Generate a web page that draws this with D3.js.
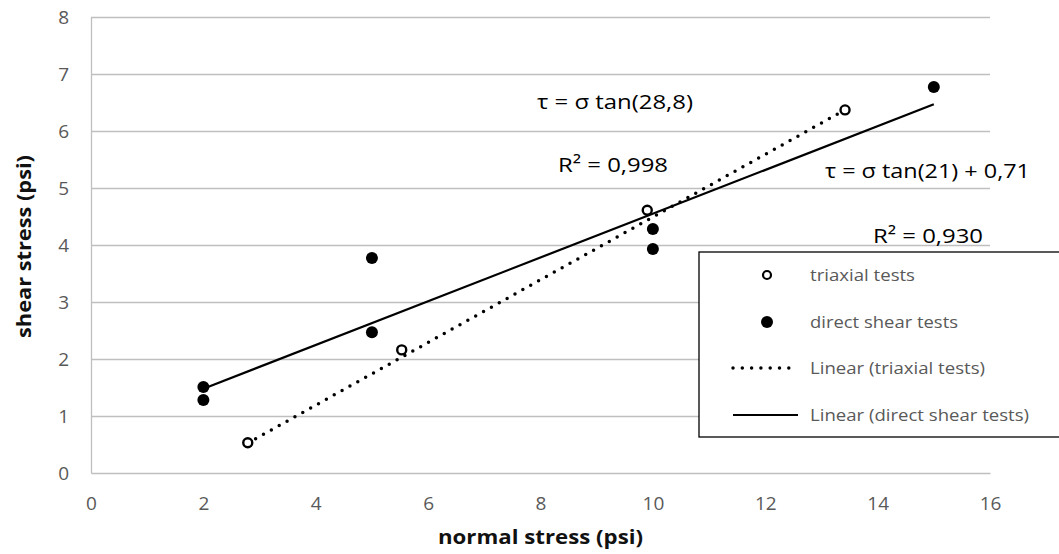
<!DOCTYPE html>
<html>
<head>
<meta charset="utf-8">
<script src="https://cdn.jsdelivr.net/npm/d3@7"></script>
<style>
  body { margin: 0; background: #fff; }
  svg { display: block; font-family: "Open Sans", "Noto Sans", sans-serif; }
</style>
</head>
<body>
<div class="chart"></div>
<script>
//Data
var triaxX = [2.79, 5.53, 9.9, 13.42];
var triaxY = [0.53, 2.16, 4.61, 6.37];
var directX = [2, 2, 5, 5, 10, 10, 15];
var directY = [1.51, 1.28, 3.77, 2.47, 4.28, 3.93, 6.77];
//trend lines: [slope, intercept, xStart, xEnd]
var triaxFit = [0.55, -1.01, 2.79, 13.42];
var directFit = [0.3839, 0.71, 2, 15];
var xTicks = [0, 2, 4, 6, 8, 10, 12, 14, 16];
var yTicks = [0, 1, 2, 3, 4, 5, 6, 7, 8];
var legendLabels = ['triaxial tests', 'direct shear tests', 'Linear (triaxial tests)', 'Linear (direct shear tests)'];
var eqLabels = ['τ = σ tan(28,8)', 'R² = 0,998', 'τ = σ tan(21) + 0,71', 'R² = 0,930'];

//Static sizes
var W = 1059, H = 554;
var plot = { left: 91, right: 990, top: 17, bottom: 473 };
var grey = '#595959';

var svg = d3.select('.chart').append('svg')
            .attr('width', W)
            .attr('height', H);

var x = d3.scaleLinear().domain([0, 16]).range([plot.left, plot.right]);
var y = d3.scaleLinear().domain([0, 8]).range([plot.bottom, plot.top]);

//gridlines
svg.append('g')
   .attr('transform', 'translate(' + plot.left + ',0)')
   .call(d3.axisLeft(y).tickValues(yTicks.slice(1)).tickSize(-(plot.right - plot.left)).tickFormat(''))
   .call(function(g) { g.select('.domain').remove(); })
   .selectAll('line').attr('stroke', '#bfbfbf').attr('stroke-width', 1.3);

//y axis
var yAxis = svg.append('g')
   .attr('transform', 'translate(' + plot.left + ',0)')
   .call(d3.axisLeft(y).tickValues(yTicks).tickSize(0).tickPadding(22));
yAxis.select('.domain').attr('stroke', '#bfbfbf').attr('stroke-width', 1.3);
yAxis.selectAll('text').attr('fill', grey).style('font-size', '19px').style('font-family', '"Open Sans", sans-serif');

//x axis
var xAxis = svg.append('g')
   .attr('transform', 'translate(0,' + plot.bottom + ')')
   .call(d3.axisBottom(x).tickValues(xTicks).tickSize(0).tickPadding(24));
xAxis.select('.domain').attr('stroke', '#bfbfbf').attr('stroke-width', 1.3);
xAxis.selectAll('text').attr('fill', grey).style('font-size', '19px').style('font-family', '"Open Sans", sans-serif');

//axis titles
svg.append('text')
   .attr('x', 438)
   .attr('y', 544)
   .attr('font-weight', 'bold')
   .attr('font-size', 19)
   .attr('textLength', 205)
   .attr('lengthAdjust', 'spacingAndGlyphs')
   .attr('fill', '#111')
   .text('normal stress (psi)');
svg.append('text')
   .attr('transform', 'translate(31,338) rotate(-90)')
   .attr('font-weight', 'bold')
   .attr('font-size', 19)
   .attr('textLength', 183)
   .attr('lengthAdjust', 'spacingAndGlyphs')
   .attr('fill', '#111')
   .text('shear stress (psi)');

//trend lines
function fitLine(fit) {
  return d3.line()
           .x(function(d) { return x(d); })
           .y(function(d) { return y(fit[0] * d + fit[1]); })([fit[2], fit[3]]);
}
svg.append('path')
   .attr('d', fitLine(triaxFit))
   .attr('stroke', '#000')
   .attr('stroke-width', 3.5)
   .attr('stroke-linecap', 'round')
   .attr('stroke-dasharray', '0,9')
   .attr('fill', 'none');
svg.append('path')
   .attr('d', fitLine(directFit))
   .attr('stroke', '#000')
   .attr('stroke-width', 2.2)
   .attr('fill', 'none');

//points
svg.selectAll('circle.direct')
   .data(d3.range(directX.length))
   .enter()
   .append('circle')
   .attr('class', 'direct')
   .attr('cx', function(i) { return x(directX[i]); })
   .attr('cy', function(i) { return y(directY[i]); })
   .attr('r', 6)
   .attr('fill', '#000');
svg.selectAll('circle.triax')
   .data(d3.range(triaxX.length))
   .enter()
   .append('circle')
   .attr('class', 'triax')
   .attr('cx', function(i) { return x(triaxX[i]); })
   .attr('cy', function(i) { return y(triaxY[i]); })
   .attr('r', 4.5)
   .attr('fill', '#fff')
   .attr('stroke', '#000')
   .attr('stroke-width', 2.4);

//equation labels: left, baseline, width
var eqPos = [[537, 109, 156], [558, 172, 110], [825, 178, 205], [873, 243, 110]];
svg.selectAll('text.eq')
   .data(eqLabels)
   .enter()
   .append('text')
   .attr('class', 'eq')
   .attr('x', function(d, i) { return eqPos[i][0]; })
   .attr('y', function(d, i) { return eqPos[i][1]; })
   .attr('textLength', function(d, i) { return eqPos[i][2]; })
   .attr('lengthAdjust', 'spacingAndGlyphs')
   .attr('font-size', 20)
   .attr('fill', '#000')
   .text(function(d) { return d; });

//legend
var lg = svg.append('g');
lg.append('rect')
  .attr('x', 699).attr('y', 252)
  .attr('width', 400).attr('height', 185)
  .attr('fill', '#fff')
  .attr('stroke', '#000')
  .attr('stroke-width', 1.3);
var rowY = [275, 322, 368, 415];
var legendW = [105, 148, 175, 219];
lg.append('circle').attr('cx', 767).attr('cy', rowY[0]).attr('r', 4)
  .attr('fill', '#fff').attr('stroke', '#000').attr('stroke-width', 2.2);
lg.append('circle').attr('cx', 767).attr('cy', rowY[1]).attr('r', 6).attr('fill', '#000');
lg.append('line').attr('x1', 733).attr('x2', 798).attr('y1', rowY[2]).attr('y2', rowY[2])
  .attr('stroke', '#000').attr('stroke-width', 3.5).attr('stroke-linecap', 'round').attr('stroke-dasharray', '0,9.3');
lg.append('line').attr('x1', 733).attr('x2', 798).attr('y1', rowY[3]).attr('y2', rowY[3])
  .attr('stroke', '#000').attr('stroke-width', 2);
lg.selectAll('text')
  .data(legendLabels)
  .enter()
  .append('text')
  .attr('x', 810)
  .attr('y', function(d, i) { return rowY[i] + 6; })
  .attr('textLength', function(d, i) { return legendW[i]; })
  .attr('lengthAdjust', 'spacingAndGlyphs')
  .attr('font-size', 17)
  .attr('fill', grey)
  .text(function(d) { return d; });
</script>
</body>
</html>
